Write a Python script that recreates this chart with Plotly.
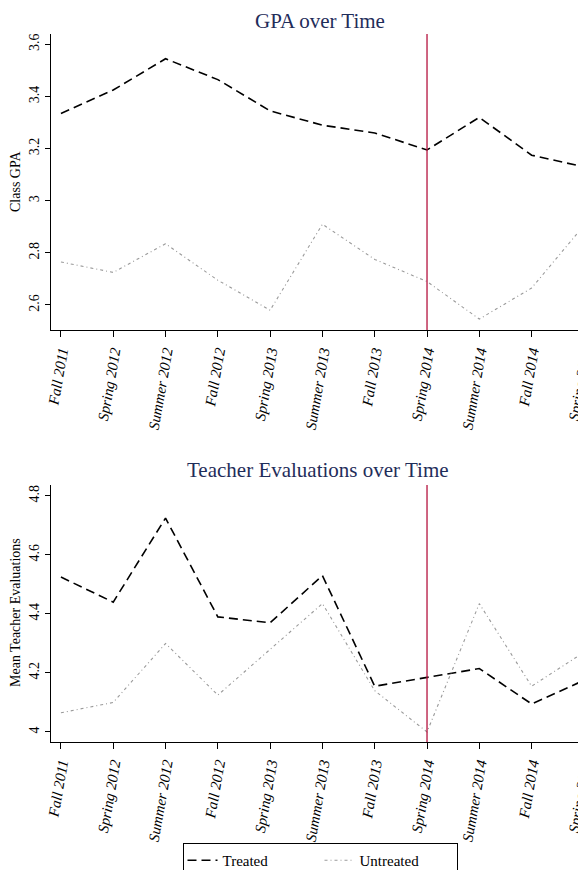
import plotly.graph_objects as go
from plotly.subplots import make_subplots

terms = ["Fall 2011", "Spring 2012", "Summer 2012", "Fall 2012", "Spring 2013",
         "Summer 2013", "Fall 2013", "Spring 2014", "Summer 2014", "Fall 2014", "Spring 2015"]
gpa_treated = [3.335, 3.425, 3.545, 3.465, 3.345, 3.29, 3.26, 3.195, 3.32, 3.175, 3.13]
gpa_untreated = [2.765, 2.725, 2.835, 2.695, 2.58, 2.91, 2.775, 2.69, 2.546, 2.665, 2.905]
eval_treated = [4.525, 4.44, 4.725, 4.39, 4.37, 4.53, 4.155, 4.185, 4.215, 4.095, 4.175]
eval_untreated = [4.065, 4.1, 4.3, 4.125, 4.28, 4.435, 4.14, 4.0, 4.435, 4.155, 4.27]
gpa_ticks = [2.6, 2.8, 3.0, 3.2, 3.4, 3.6]
gpa_ticktext = ["2.6", "2.8", "3", "3.2", "3.4", "3.6"]
eval_ticks = [4.0, 4.2, 4.4, 4.6, 4.8]
eval_ticktext = ["4", "4.2", "4.4", "4.6", "4.8"]
treatment_term = "Spring 2014"

# the page body has an 8px margin, so the figure sits at (8, 8) in the window
OFF = 8
W, H = 586 - OFF, 870 - OFF
L = 51 - OFF
PW = W - L
SERIF = "Liberation Serif"
xs = list(range(len(terms)))
tidx = terms.index(treatment_term)


def py(p):
    return 1 - (p - OFF) / H


def px(p):
    return (p - OFF - L) / PW


fig = make_subplots(rows=2, cols=1)

tr_style = dict(color="black", width=1.6, dash="9px,5px")
un_style = dict(color="#9a9a9a", width=1.1, dash="3px,3px,1px,3px")

fig.add_trace(go.Scatter(x=xs, y=gpa_treated, mode="lines", name="Treated",
                         line=tr_style, legendgroup="t"), row=1, col=1)
fig.add_trace(go.Scatter(x=xs, y=gpa_untreated, mode="lines", name="Untreated",
                         line=un_style, legendgroup="u"), row=1, col=1)
fig.add_trace(go.Scatter(x=xs, y=eval_treated, mode="lines", name="Treated",
                         line=tr_style, legendgroup="t", showlegend=False), row=2, col=1)
fig.add_trace(go.Scatter(x=xs, y=eval_untreated, mode="lines", name="Untreated",
                         line=un_style, legendgroup="u", showlegend=False), row=2, col=1)

xcommon = dict(range=[-0.19, 10.04], tickmode="array", tickvals=xs, ticktext=terms,
               tickangle=-80, ticks="outside", ticklen=6, tickcolor="black",
               showline=True, linecolor="black", linewidth=1, showgrid=False,
               zeroline=False, automargin=False, ticklabeloverflow="allow",
               tickfont=dict(family=SERIF, size=15, color="black", style="italic"))
ycommon = dict(ticks="outside", ticklen=5, tickcolor="black", showline=True,
               linecolor="black", linewidth=1, showgrid=False, zeroline=False,
               automargin=False, tickangle=-90,
               tickfont=dict(family=SERIF, size=14, color="black"))

fig.update_xaxes(**xcommon)
fig.update_yaxes(**ycommon)
fig.update_layout(
    template="none",
    xaxis=dict(domain=[0, 1]),
    xaxis2=dict(domain=[0, 1]),
    yaxis=dict(domain=[py(330), py(34)], range=[2.504, 3.64], tickmode="array",
               tickvals=gpa_ticks, ticktext=gpa_ticktext),
    yaxis2=dict(domain=[py(742), py(485)], range=[3.966, 4.837], tickmode="array",
                tickvals=eval_ticks, ticktext=eval_ticktext),
)

for xr, yr in [("x", "y domain"), ("x2", "y2 domain")]:
    fig.add_shape(type="line", xref=xr, yref=yr, x0=tidx, x1=tidx, y0=0, y1=1,
                  line=dict(color="#b5123e", width=1.3))

title_col = "#1f2d5a"
fig.add_annotation(text="GPA over Time", xref="paper", yref="paper", x=px(320), y=py(8),
                   showarrow=False, font=dict(family=SERIF, size=21, color=title_col),
                   xanchor="center", yanchor="top", borderpad=0)
fig.add_annotation(text="Teacher Evaluations over Time", xref="paper", yref="paper",
                   x=px(318), y=py(470), showarrow=False,
                   font=dict(family=SERIF, size=21, color=title_col),
                   xanchor="center", yanchor="middle")
fig.add_annotation(text="Class GPA", xref="paper", yref="paper", x=px(15),
                   y=py(182), textangle=-90, showarrow=False,
                   font=dict(family=SERIF, size=14, color="black"),
                   xanchor="center", yanchor="middle")
fig.add_annotation(text="Mean Teacher Evaluations", xref="paper", yref="paper",
                   x=px(15), y=py(613), textangle=-90, showarrow=False,
                   font=dict(family=SERIF, size=14, color="black"),
                   xanchor="center", yanchor="middle")

fig.update_layout(
    width=W, height=H,
    margin=dict(l=L, r=0, t=0, b=0, autoexpand=False),
    paper_bgcolor="white", plot_bgcolor="white",
    showlegend=True,
    legend=dict(orientation="h", x=px(320), xanchor="center",
                y=py(843), yanchor="top",
                bordercolor="black", borderwidth=1, bgcolor="white",
                font=dict(family=SERIF, size=15, color="black"),
                entrywidth=92, entrywidthmode="pixels", tracegroupgap=0),
)

fig.write_html("out.html")
